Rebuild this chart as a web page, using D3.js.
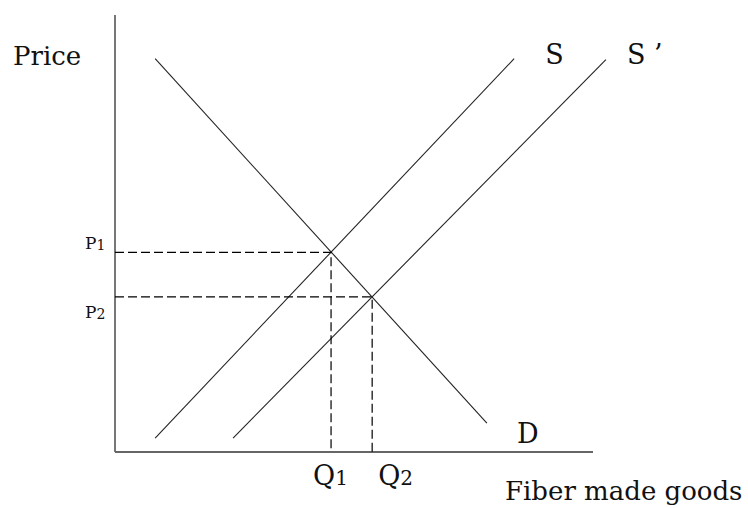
<!DOCTYPE html>
<html lang="en">
<head>
<meta charset="utf-8">
<title>Fiber made goods - supply shift</title>
<script src="https://cdn.jsdelivr.net/npm/d3@7"></script>
<style>
  body { margin: 0; background: #fff; }
  text { font-family: "DejaVu Serif", "Liberation Serif", serif; fill: #111; }
</style>
</head>
<body>
<div id="chart"></div>
<script>
// values, in chart units (0-100 on both axes)
var demand = [[8.4, 90], [77.8, 6.6]];
var supply = [[8.4, 3.2], [83.5, 90]];
var supplyShift = [[24.7, 3.2], [102.7, 89.8]];
var equilibria = [{q: 45.2, p: 45.7, sub: "1"}, {q: 53.8, p: 35.5, sub: "2"}];
var curveLabels = [
  {text: "S", q: 90, p: 88.8},
  {text: "S \u2019", q: 107.1, p: 88.8},
  {text: "D", q: 84.1, p: 2}
];

var width = 748, height = 508;

var svg = d3.select("#chart").append("svg")
    .attr("width", width)
    .attr("height", height);

var x = d3.scaleLinear().domain([0, 100]).range([115, 593]);
var y = d3.scaleLinear().domain([0, 100]).range([452, 15]);

var line = d3.line()
    .x(function(d) { return x(d[0]); })
    .y(function(d) { return y(d[1]); });

// axes
svg.append("line")
    .attr("x1", x(0)).attr("y1", y(100))
    .attr("x2", x(0)).attr("y2", y(0))
    .attr("stroke", "#555").attr("stroke-width", 1.6);
svg.append("line")
    .attr("x1", x(0)).attr("y1", y(0))
    .attr("x2", x(100)).attr("y2", y(0))
    .attr("stroke", "#666").attr("stroke-width", 2);

// curves
[demand, supply, supplyShift].forEach(function(c) {
  svg.append("path")
    .attr("d", line(c))
    .attr("fill", "none")
    .attr("stroke", "#222")
    .attr("stroke-width", 1.1);
});

// dashed guides
equilibria.forEach(function(e) {
  svg.append("path")
    .attr("d", line([[0, e.p], [e.q, e.p], [e.q, 0]]))
    .attr("fill", "none")
    .attr("stroke", "#000")
    .attr("stroke-width", 1.2)
    .attr("stroke-dasharray", "9,4");
});

// P labels
equilibria.forEach(function(e, i) {
  var t = svg.append("text")
    .attr("x", 85)
    .attr("y", i == 0 ? y(e.p) - 3 : y(e.p) + 21)
    .style("font-size", "17px")
    .text("P");
  t.append("tspan").attr("dy", 1).style("font-size", "14px").text(e.sub);
});

// Q labels
equilibria.forEach(function(e, i) {
  var t = svg.append("text")
    .attr("x", x(e.q) + (i == 0 ? -18 : 6))
    .attr("y", 485)
    .style("font-size", "27px")
    .text("Q");
  t.append("tspan").style("font-size", "20px").text(e.sub);
});

// curve names
curveLabels.forEach(function(l) {
  svg.append("text")
    .attr("x", x(l.q))
    .attr("y", y(l.p))
    .style("font-size", "27px")
    .text(l.text);
});

// axis titles
svg.append("text")
    .attr("x", 13).attr("y", 65)
    .style("font-size", "26px")
    .text("Price");
svg.append("text")
    .attr("x", 505).attr("y", 500)
    .style("font-size", "26px")
    .text("Fiber made goods");
</script>
</body>
</html>
